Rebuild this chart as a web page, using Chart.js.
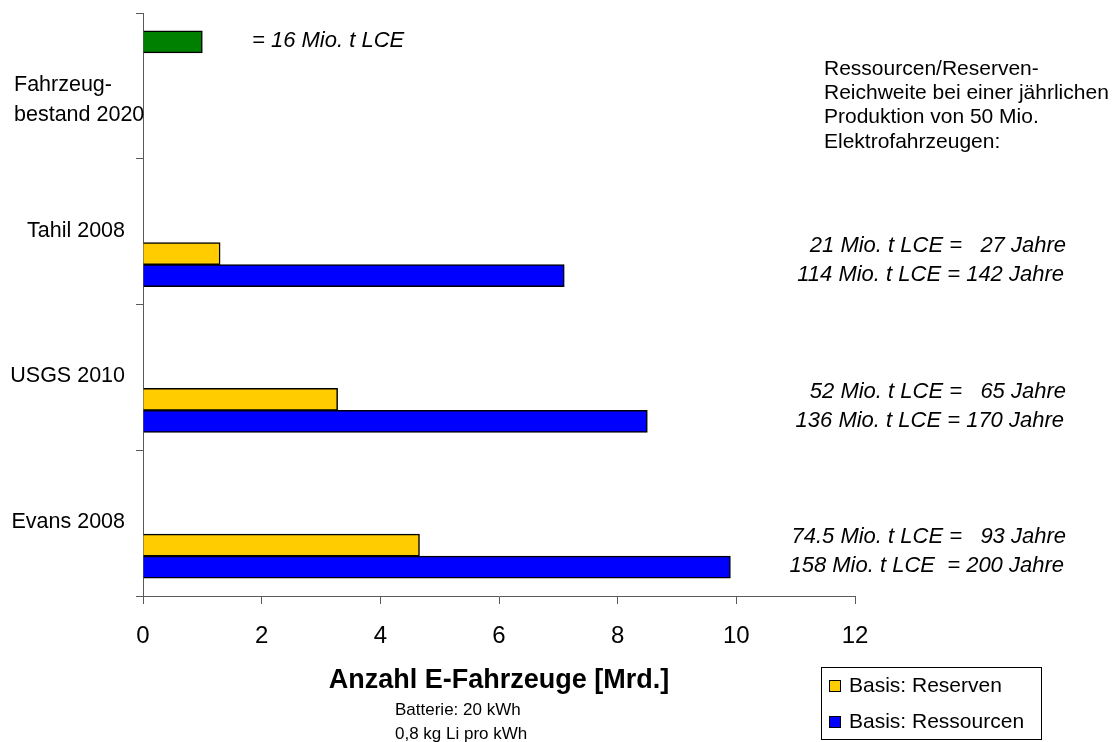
<!DOCTYPE html>
<html>
<head>
<meta charset="utf-8">
<script src="https://cdn.jsdelivr.net/npm/chart.js@4/dist/chart.umd.min.js"></script>
<style>
  html, body { margin: 0; padding: 0; background: #ffffff; }
  #wrap { width: 1116px; height: 742px; }
</style>
</head>
<body>
<div id="wrap"><canvas id="chart" width="1116" height="742"></canvas></div>
<script>
// Lithium demand vs. supply: how many e-vehicles (billions) the known
// lithium reserves / resources could equip.
const categories = [['Fahrzeug-', 'bestand 2020'], ['Tahil 2008'], ['USGS 2010'], ['Evans 2008']];
const fleet2020 = [1.0, null, null, null];
const reserves = [null, 1.3, 3.28, 4.66];
const resources = [null, 7.1, 8.5, 9.9];
const spacer = [null, null, null, null];
const xTicks = [0, 2, 4, 6, 8, 10, 12];

const fleetNote = '= 16 Mio. t LCE';
const reserveNotes = [null, '21 Mio. t LCE =   27 Jahre', '52 Mio. t LCE =   65 Jahre', '74.5 Mio. t LCE =   93 Jahre'];
const resourceNotes = [null, '114 Mio. t LCE = 142 Jahre', '136 Mio. t LCE = 170 Jahre', '158 Mio. t LCE  = 200 Jahre'];
const rangeHeading = ['Ressourcen/Reserven-', 'Reichweite bei einer jährlichen', 'Produktion von 50 Mio.', 'Elektrofahrzeugen:'];
const axisTitle = 'Anzahl E-Fahrzeuge [Mrd.]';
const axisNote = ['Batterie: 20 kWh', '0,8 kg Li pro kWh'];
const legendSeries = ['Basis: Reserven', 'Basis: Ressourcen'];

const FONT = "'Liberation Sans', Arial, sans-serif";
const AXIS_GRAY = '#5a5a5a';

// Free text: category names, notes next to the bars, heading, axis title, legend box
const textPlugin = {
  id: 'chartTexts',
  afterDraw(chart) {
    const ctx = chart.ctx;
    const yScale = chart.scales.y;
    ctx.save();
    ctx.fillStyle = '#000';

    // category names
    ctx.font = '21.5px ' + FONT;
    ctx.textBaseline = 'middle';
    categories.forEach((lines, i) => {
      const yc = yScale.getPixelForValue(i) - 1;
      if (lines.length > 1) {
        ctx.textAlign = 'left';
        lines.forEach((t, k) => ctx.fillText(t, 14, yc + k * 30));
      } else {
        ctx.textAlign = 'right';
        ctx.fillText(lines[0], 125, yc);
      }
    });

    // notes next to the bars
    ctx.font = 'italic 22px ' + FONT;
    ctx.textAlign = 'left';
    const fleetBar = chart.getDatasetMeta(0).data[0];
    ctx.fillText(fleetNote, 252, fleetBar.y - 1);
    ctx.textAlign = 'right';
    const resMeta = chart.getDatasetMeta(3);
    const srcMeta = chart.getDatasetMeta(4);
    reserveNotes.forEach((t, i) => {
      if (!t) return;
      ctx.fillText(t, 1066, resMeta.data[i].y - 8);
      ctx.fillText(resourceNotes[i], 1064, srcMeta.data[i].y - 1);
    });

    // heading for the range notes
    ctx.font = '21px ' + FONT;
    ctx.textAlign = 'left';
    ctx.textBaseline = 'alphabetic';
    rangeHeading.forEach((t, k) => ctx.fillText(t, 824, 75 + k * 24.2));

    // x axis title and battery assumptions
    const area = chart.chartArea;
    ctx.font = 'bold 27px ' + FONT;
    ctx.textAlign = 'center';
    ctx.fillText(axisTitle, (area.left + area.right) / 2, 688);
    ctx.font = '17px ' + FONT;
    ctx.textAlign = 'left';
    axisNote.forEach((t, k) => ctx.fillText(t, 395, 715 + k * 24));

    // legend box
    const bx = 821, by = 667, bw = 220, bh = 72;
    ctx.fillStyle = '#ffffff';
    ctx.fillRect(bx, by, bw, bh);
    ctx.strokeStyle = '#000';
    ctx.lineWidth = 1;
    ctx.strokeRect(bx + 0.5, by + 0.5, bw, bh);
    ctx.font = '21px ' + FONT;
    ctx.textBaseline = 'middle';
    ctx.textAlign = 'left';
    legendSeries.forEach((name, k) => {
      const ds = chart.data.datasets.find(d => d.label === name);
      const cy = 686 + k * 36;
      ctx.fillStyle = ds.backgroundColor;
      ctx.fillRect(829, cy - 6, 12, 12);
      ctx.strokeStyle = '#000';
      ctx.strokeRect(829.5, cy - 5.5, 11, 11);
      ctx.fillStyle = '#000';
      ctx.fillText(name, 849, cy);
    });
    ctx.restore();
  }
};

new Chart(document.getElementById('chart'), {
  type: 'bar',
  data: {
    labels: categories.map(c => c.join(' ')),
    datasets: [
      { label: 'Fahrzeugbestand 2020', data: fleet2020, backgroundColor: '#008000' },
      { label: 'spacer a', data: spacer },
      { label: 'spacer b', data: spacer },
      { label: legendSeries[0], data: reserves, backgroundColor: '#FFCC00' },
      { label: legendSeries[1], data: resources, backgroundColor: '#0000FF' }
    ]
  },
  options: {
    indexAxis: 'y',
    responsive: false,
    animation: false,
    events: [],
    layout: { padding: { left: 0, top: 13, right: 261, bottom: 0 } },
    datasets: { bar: { barThickness: 22, borderColor: '#000000', borderWidth: 1.5 } },
    plugins: { legend: { display: false }, tooltip: { enabled: false }, title: { display: false } },
    scales: {
      x: {
        type: 'linear',
        min: 0,
        max: 12,
        afterBuildTicks: s => { s.ticks = xTicks.map(v => ({ value: v })); },
        afterFit: s => { s.height = 146; },
        grid: { drawOnChartArea: false, tickLength: 8, color: AXIS_GRAY },
        border: { color: AXIS_GRAY, width: 1 },
        ticks: { font: { family: FONT, size: 24 }, color: '#000', padding: 18, maxRotation: 0 }
      },
      y: {
        type: 'category',
        afterFit: s => { s.width = 143; },
        grid: { drawOnChartArea: false, tickLength: 7, color: AXIS_GRAY, offset: true },
        border: { color: AXIS_GRAY, width: 1 },
        ticks: { display: false }
      }
    }
  },
  plugins: [textPlugin]
});
</script>
</body>
</html>
